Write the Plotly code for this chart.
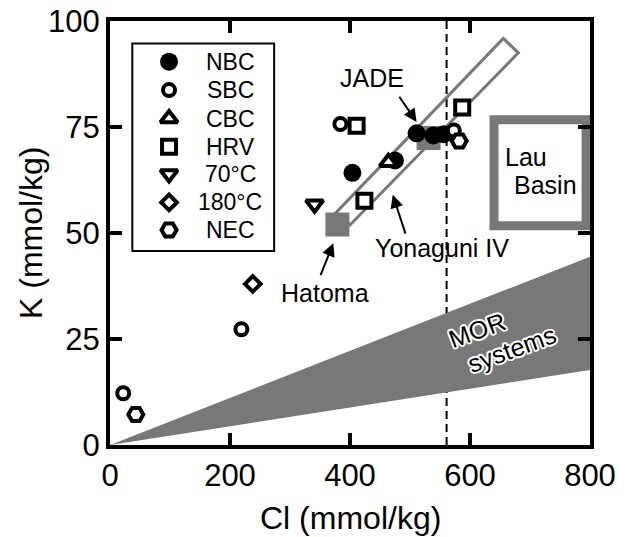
import plotly.graph_objects as go

FONT = "Liberation Sans, Arial, Helvetica, sans-serif"
GRAY = "#787878"

# ---- data (Cl mmol/kg, K mmol/kg) ----
nbc_cl = [404, 475, 511, 539, 556]
nbc_k = [64.2, 67.1, 73.5, 73.0, 73.3]
sbc_cl = [22, 219, 384, 573]
sbc_k = [12.2, 27.3, 75.7, 74.2]
cbc_cl = [464]
cbc_k = [66.7]
hrv_cl = [411, 424, 587]
hrv_k = [75.3, 57.6, 79.6]
t70_cl = [341]
t70_k = [56.8]
t180_cl = [238]
t180_k = [38.0]
nec_cl = [43, 582]
nec_k = [7.2, 71.7]
# literature sites (gray squares)
ref_cl = [379, 531]          # Hatoma, JADE
ref_k = [52.0, 72.4]

# MOR systems wedge
mor_cl = [0, 800, 800, 0]
mor_k = [0, 44.4, 17.7, 0]
# Yonaguni IV band corners
band_cl = [376.7, 655.5, 680.5, 400.0]
band_k = [54.8, 95.9, 92.5, 51.9]
# Lau Basin box
lau_cl = [640, 793.5]
lau_k = [51.7, 76.7]
# seawater Cl
sw_cl = 561

xticks = [0, 200, 400, 600, 800]
yticks = [0, 25, 50, 75, 100]

legend_names = ["NBC", "SBC", "CBC", "HRV", "70°C", "180°C", "NEC"]

styles = {
    "NBC": dict(symbol="circle", size=18, color="black", line=dict(width=0, color="black")),
    "SBC": dict(symbol="circle", size=12, color="white", line=dict(width=4, color="black")),
    "CBC": dict(symbol="triangle-up", size=15, color="white", line=dict(width=4, color="black")),
    "HRV": dict(symbol="square", size=14, color="white", line=dict(width=4, color="black")),
    "70°C": dict(symbol="triangle-down", size=15, color="white", line=dict(width=4, color="black")),
    "180°C": dict(symbol="diamond", size=12, color="white", line=dict(width=4, color="black")),
    "NEC": dict(symbol="hexagon2", size=15, color="white", line=dict(width=4, color="black")),
}
series = {
    "NBC": (nbc_cl, nbc_k), "SBC": (sbc_cl, sbc_k), "CBC": (cbc_cl, cbc_k),
    "HRV": (hrv_cl, hrv_k), "70°C": (t70_cl, t70_k), "180°C": (t180_cl, t180_k),
    "NEC": (nec_cl, nec_k),
}

fig = go.Figure()

fig.add_trace(go.Scatter(x=mor_cl, y=mor_k, mode="lines", fill="toself",
                         fillcolor=GRAY, line=dict(width=0, color=GRAY),
                         showlegend=False, hoverinfo="skip"))
fig.add_trace(go.Scatter(x=ref_cl, y=ref_k, mode="markers",
                         marker=dict(symbol="square", size=24, color=GRAY),
                         showlegend=False))
for name in legend_names:
    xs, ys = series[name]
    fig.add_trace(go.Scatter(x=xs, y=ys, mode="markers", marker=styles[name],
                             name=name, showlegend=False))

# custom legend (overlay axes in paper units)
leg_x = 0.123
leg_text_x = 0.25
leg_rows = [0.904, 0.837, 0.770, 0.7035, 0.639, 0.572, 0.507]
for name, yy in zip(legend_names, leg_rows):
    fig.add_trace(go.Scatter(x=[leg_x], y=[yy], mode="markers", marker=styles[name],
                             xaxis="x2", yaxis="y2", showlegend=False))
    fig.add_annotation(x=leg_text_x, y=yy, xref="paper", yref="paper", text=name,
                       showarrow=False, xanchor="center", yanchor="middle",
                       font=dict(family=FONT, size=23, color="black"))

shapes = [
    dict(type="line", xref="x", yref="y", x0=sw_cl, x1=sw_cl, y0=0, y1=100,
         line=dict(color="black", width=2, dash="8px,5px"), layer="below"),
    dict(type="path", xref="x", yref="y",
         path="M {},{} L {},{} L {},{} L {},{} Z".format(band_cl[0], band_k[0], band_cl[1], band_k[1],
                                                       band_cl[2], band_k[2], band_cl[3], band_k[3]),
         line=dict(color=GRAY, width=3), fillcolor="rgba(0,0,0,0)", layer="below"),
    dict(type="rect", xref="x", yref="y", x0=lau_cl[0], x1=lau_cl[1], y0=lau_k[0], y1=lau_k[1],
         line=dict(color=GRAY, width=9), fillcolor="white", layer="below"),
    dict(type="rect", xref="paper", yref="paper", x0=0.0465, x1=0.342, y0=0.4575, y1=0.947,
         line=dict(color="black", width=2), fillcolor="white", layer="below"),
]

ann_font = dict(family=FONT, size=25, color="black")
# labels
fig.add_annotation(x=436, y=86.5, text="JADE", showarrow=False, font=ann_font)
fig.add_annotation(x=553, y=46.4, text="Yonaguni IV", showarrow=False, font=ann_font)
fig.add_annotation(x=358, y=35.8, text="Hatoma", showarrow=False, font=ann_font)
fig.add_annotation(x=693, y=67.9, text="Lau", showarrow=False, font=ann_font)
fig.add_annotation(x=725, y=61.3, text="Basin", showarrow=False, font=ann_font)
# arrows
arrows = [((511, 76.2), (480.5, 82.5)),
          ((471.2, 59.0), (493.3, 49.5)),
          ((372.2, 47.6), (350.0, 39.7))]
for (tx, ty), (sx, sy) in arrows:
    fig.add_annotation(x=tx, y=ty, ax=sx, ay=sy, axref="x", ayref="y", text="",
                       showarrow=True, arrowhead=2, arrowsize=1.3, arrowwidth=2,
                       arrowcolor="black", standoff=0)

halo = ("white 2px 0px 0px, white -2px 0px 0px, white 0px 2px 0px, white 0px -2px 0px, "
        "white 1.5px 1.5px 0px, white -1.5px -1.5px 0px, white 1.5px -1.5px 0px, white -1.5px 1.5px 0px")
mor_font = dict(family=FONT, size=25, color="black", shadow=halo)
fig.add_annotation(x=612, y=27.1, text="MOR", showarrow=False, textangle=-20, font=mor_font)
fig.add_annotation(x=670, y=22.6, text="systems", showarrow=False, textangle=-20, font=mor_font)

# axis titles
title_font = dict(family=FONT, size=32, color="black")
fig.add_annotation(x=0.5, y=-0.172, xref="paper", yref="paper", text="Cl (mmol/kg)",
                   showarrow=False, font=title_font, xanchor="center", yanchor="middle")
fig.add_annotation(x=-0.1646, y=0.5, xref="paper", yref="paper", text="K (mmol/kg)",
                   showarrow=False, font=title_font, textangle=-90, xanchor="center", yanchor="middle")

axis_common = dict(showline=True, linewidth=4, linecolor="black", mirror="ticks",
                   ticks="inside", ticklen=12, tickwidth=4, tickcolor="black",
                   showgrid=False, zeroline=False, automargin=False,
                   ticklabeloverflow="allow",
                   tickfont=dict(family=FONT, size=31, color="black"))
fig.update_layout(
    template="none",
    width=619, height=529,
    margin=dict(l=102, r=37, t=13, b=92, autoexpand=False),
    paper_bgcolor="white", plot_bgcolor="white",
    showlegend=False,
    shapes=shapes,
    xaxis=dict(range=[0, 800], tickvals=xticks, **axis_common),
    yaxis=dict(range=[0, 100], tickvals=yticks, **axis_common),
    xaxis2=dict(overlaying="x", range=[0, 1], visible=False, anchor="y2", automargin=False),
    yaxis2=dict(overlaying="y", range=[0, 1], visible=False, anchor="x2", automargin=False),
)

fig.write_html("out.html")
